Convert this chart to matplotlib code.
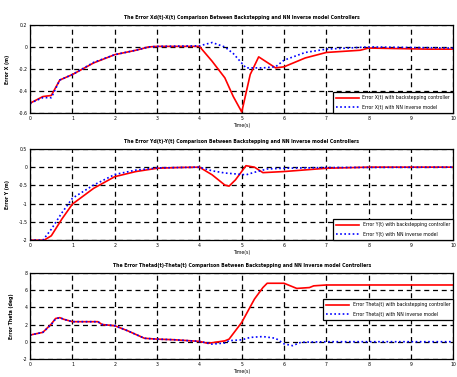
import matplotlib.pyplot as plt
import numpy as np

# error traces, read at irregular times (s)
t_x_bs = [0, 0.3, 0.5, 0.7, 1.0, 1.5, 2.0, 2.5, 2.8, 3.0, 4.0, 4.3, 4.6, 4.8, 5.0, 5.2, 5.4, 5.8, 6.0, 6.5, 7.0, 7.8, 8.0, 9.4, 10]
e_x_bs = [-0.51, -0.45, -0.44, -0.30, -0.25, -0.145, -0.07, -0.03, 0.0, 0.005, 0.005, -0.13, -0.28, -0.45, -0.59, -0.25, -0.09, -0.19, -0.18, -0.10, -0.05, -0.03, -0.01, -0.02, -0.02]
t_x_nn = [0, 0.3, 0.5, 0.7, 1.0, 1.5, 2.0, 2.5, 2.8, 3.0, 4.0, 4.3, 4.6, 4.8, 5.1, 5.5, 5.8, 6.0, 6.5, 7.0, 8.0, 10]
e_x_nn = [-0.51, -0.46, -0.46, -0.30, -0.25, -0.14, -0.07, -0.03, 0.0, 0.005, 0.01, 0.04, 0.0, -0.06, -0.19, -0.19, -0.18, -0.12, -0.05, -0.02, 0.0, -0.01]

t_y_bs = [0, 0.33, 0.5, 0.75, 1.0, 1.5, 2.0, 2.5, 3.0, 3.5, 4.0, 4.3, 4.6, 4.7, 4.85, 5.1, 5.3, 5.5, 6.0, 7.0, 8.0, 10]
e_y_bs = [-2.0, -2.0, -1.88, -1.42, -1.01, -0.58, -0.26, -0.12, -0.03, -0.01, 0.0, -0.21, -0.49, -0.52, -0.35, 0.04, 0.0, -0.15, -0.12, -0.03, 0.0, 0.0]
t_y_nn = [0, 0.3, 0.5, 0.75, 1.0, 1.5, 2.0, 2.5, 3.0, 4.0, 4.3, 4.6, 4.8, 5.1, 5.3, 5.6, 6.0, 7.0, 10]
e_y_nn = [-2.0, -2.0, -1.7, -1.25, -0.85, -0.49, -0.2, -0.08, -0.02, 0.0, -0.1, -0.16, -0.18, -0.21, -0.14, -0.05, -0.03, -0.01, 0.0]

t_th_bs = [0, 0.3, 0.5, 0.6, 0.7, 0.8, 1.0, 1.6, 1.7, 2.0, 2.3, 2.6, 2.7, 3.0, 3.4, 4.0, 4.2, 4.6, 4.7, 5.0, 5.3, 5.5, 5.6, 6.0, 6.3, 6.6, 6.7, 7.0, 10]
e_th_bs = [0.78, 1.09, 2.06, 2.7, 2.8, 2.6, 2.33, 2.33, 2.0, 1.86, 1.28, 0.62, 0.4, 0.3, 0.23, 0.04, -0.19, 0.1, 0.3, 2.25, 4.96, 6.3, 6.8, 6.8, 6.2, 6.3, 6.5, 6.6, 6.6]
t_th_nn = [0, 0.3, 0.5, 0.6, 0.7, 0.8, 1.0, 1.6, 1.7, 2.0, 2.3, 2.6, 2.7, 3.0, 3.4, 4.0, 4.3, 4.6, 4.7, 5.0, 5.2, 5.5, 5.8, 6.0, 6.2, 6.4, 7.0, 10]
e_th_nn = [0.78, 1.09, 2.0, 2.65, 2.8, 2.6, 2.33, 2.33, 2.0, 1.86, 1.28, 0.62, 0.4, 0.3, 0.23, 0.04, -0.28, -0.15, 0.12, 0.22, 0.5, 0.6, 0.4, -0.25, -0.46, -0.06, 0.0, 0.0]

panels = [
    ("The Error Xd(t)-X(t) Comparison Between Backstepping and NN Inverse model Controllers",
     "Error X (m)", "X", t_x_bs, e_x_bs, t_x_nn, e_x_nn, (-0.6, 0.2), [-0.6, -0.4, -0.2, 0, 0.2]),
    ("The Error Yd(t)-Y(t) Comparison Between Backstepping and NN Inverse model Controllers",
     "Error Y (m)", "Y", t_y_bs, e_y_bs, t_y_nn, e_y_nn, (-2, 0.5), [-2, -1.5, -1, -0.5, 0, 0.5]),
    ("The Error Thetad(t)-Theta(t) Comparison Between Backstepping and NN Inverse model Controllers",
     "Error Theta (deg)", "Theta", t_th_bs, e_th_bs, t_th_nn, e_th_nn, (-2, 8), [-2, 0, 2, 4, 6, 8]),
]

boxes = [[0.066, 0.700, 0.926, 0.234],
         [0.066, 0.363, 0.926, 0.242],
         [0.066, 0.048, 0.926, 0.228]]

fig = plt.figure(figsize=(4.57, 3.77), dpi=100)
fs = 3.3

for i, (title, ylab, nm, tb, eb, tn, en, ylim, yt) in enumerate(panels):
    ax = fig.add_axes(boxes[i])
    ax.plot(tb, eb, color='red', lw=1.2, label=f"Error {nm}(t) with backstepping controller")
    ax.plot(tn, en, color='blue', lw=1.2, ls=(0, (1, 1.5)), label=f"Error {nm}(t) with NN inverse model")
    ax.set_xlim(0, 10)
    ax.set_ylim(*ylim)
    ax.set_xticks(range(11))
    ax.set_yticks(yt)
    ax.set_yticklabels([f"{v:g}" for v in yt])
    ax.grid(True, color='black', ls=(0, (4, 3)), lw=0.9)
    ax.tick_params(direction='in', labelsize=fs, length=2, width=0.6, pad=2)
    for s in ax.spines.values():
        s.set_linewidth(0.9)
    ax.set_title(title, fontsize=fs, pad=4, fontweight='bold')
    ax.set_xlabel("Time(s)", fontsize=fs, labelpad=1.5)
    ax.set_ylabel(ylab, fontsize=fs, labelpad=6, fontweight='bold')
    if i < 2:
        leg = ax.legend(loc='lower right', fontsize=fs, borderaxespad=0.3, handlelength=5,
                        labelspacing=1.0)
    else:
        leg = ax.legend(loc='center right', bbox_to_anchor=(1.0, 0.575), fontsize=fs,
                        borderaxespad=0.3, handlelength=5, labelspacing=1.0)
    leg.get_frame().set_edgecolor('black')
    leg.get_frame().set_linewidth(0.9)
    leg.get_frame().set_boxstyle('square', pad=0.3)
    leg.get_frame().set_alpha(1)

fig.savefig("out.png", dpi=100)
